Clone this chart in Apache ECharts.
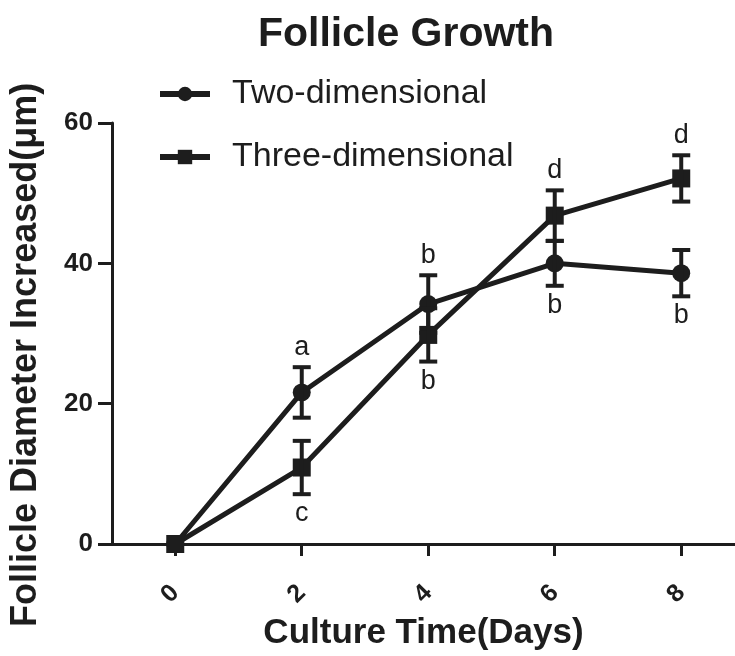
<!DOCTYPE html>
<html>
<head>
<meta charset="utf-8">
<script src="https://cdn.jsdelivr.net/npm/echarts@6/dist/echarts.min.js"></script>
<style>
  html, body { margin: 0; padding: 0; background: #fff; }
  #chart { width: 735px; height: 656px; }
</style>
</head>
<body>
<div id="chart"></div>
<script>
// culture days
var days = [0, 2, 4, 6, 8];

// follicle diameter increase (um), mean and error
var twoDimMean = [0, 21.6, 34.2, 40.0, 38.6];
var twoDimErr = [0, 3.6, 4.1, 3.2, 3.3];
var threeDimMean = [0, 10.9, 29.8, 46.8, 52.1];
var threeDimErr = [0, 3.8, 3.8, 3.6, 3.3];

// significance letters and which side of the bar they go
var twoDimLetters = ['', 'a', 'b', 'b', 'b'];
var twoDimSide = ['', 'up', 'up', 'down', 'down'];
var threeDimLetters = ['', 'c', 'b', 'd', 'd'];
var threeDimSide = ['', 'down', 'down', 'up', 'up'];

var xTicks = [0, 2, 4, 6, 8];

var ink = '#1d1d1d';
var font = 'Liberation Sans';

function pairs(mean) {
  return days.map(function (d, i) { return [d, mean[i]]; });
}

function errData(mean, err, letters, side) {
  return days.map(function (d, i) {
    return [d, mean[i] - err[i], mean[i] + err[i], letters[i], side[i]];
  });
}

function renderErr(params, api) {
  var x = api.value(0);
  var lo = api.coord([x, api.value(1)]);
  var hi = api.coord([x, api.value(2)]);
  var letter = api.value(3);
  var side = api.value(4);
  var cap = 9;
  var style = { stroke: ink, lineWidth: 4 };
  var kids = [];
  if (hi[1] < lo[1] - 1) {
    kids.push(
      { type: 'line', shape: { x1: lo[0], y1: lo[1], x2: hi[0], y2: hi[1] }, style: style },
      { type: 'line', shape: { x1: hi[0] - cap, y1: hi[1], x2: hi[0] + cap, y2: hi[1] }, style: style },
      { type: 'line', shape: { x1: lo[0] - cap, y1: lo[1], x2: lo[0] + cap, y2: lo[1] }, style: style }
    );
  }
  if (letter) {
    var up = side === 'up';
    kids.push({
      type: 'text',
      style: {
        text: letter,
        x: hi[0],
        y: up ? hi[1] - 6 : lo[1] + 6,
        fill: ink,
        font: '27px "' + font + '"',
        align: 'center',
        verticalAlign: up ? 'bottom' : 'top'
      }
    });
  }
  return { type: 'group', children: kids };
}

var chart = echarts.init(document.getElementById('chart'));

var option = {
  animation: false,
  backgroundColor: '#fff',
  title: {
    text: 'Follicle Growth',
    left: 401,
    top: 9,
    textAlign: 'center',
    textStyle: { fontFamily: font, fontSize: 41, fontWeight: 'bold', color: ink }
  },
  legend: {
    orient: 'vertical',
    left: 152,
    top: 72,
    itemWidth: 50,
    itemHeight: 18,
    itemGap: 29,
    lineStyle: { width: 6 },
    textStyle: { fontFamily: font, fontSize: 34, color: ink, padding: [0, 0, 0, 17] },
    data: ['Two-dimensional', 'Three-dimensional']
  },
  grid: { left: 112, right: 0, top: 123, bottom: 111, containLabel: false },
  graphic: [{
    type: 'text',
    x: 8,
    y: 627,
    rotation: Math.PI / 2,
    style: {
      text: 'Follicle Diameter Increased(\u03bcm)',
      fill: ink,
      font: 'bold 36px "' + font + '"'
    }
  }],
  xAxis: {
    type: 'value',
    min: -1,
    max: 8.85,
    interval: 1,
    name: 'Culture Time(Days)',
    nameLocation: 'middle',
    nameGap: 72,
    nameTextStyle: { fontFamily: font, fontSize: 35, fontWeight: 'bold', color: ink },
    splitLine: { show: false },
    axisLine: { onZero: false, lineStyle: { color: ink, width: 3 } },
    axisTick: {
      length: 12,
      lineStyle: { color: ink, width: 3 },
      customValues: xTicks
    },
    axisLabel: {
      rotate: 45,
      margin: 45,
      fontFamily: font,
      fontSize: 25,
      fontWeight: 'bold',
      color: ink,
      customValues: xTicks
    }
  },
  yAxis: {
    type: 'value',
    min: 0,
    max: 60,
    interval: 20,
    splitLine: { show: false },
    axisLine: { show: true, onZero: false, lineStyle: { color: ink, width: 3 } },
    axisTick: { show: true, length: 14, lineStyle: { color: ink, width: 3 } },
    axisLabel: {
      margin: 19,
      fontFamily: font,
      fontSize: 26,
      fontWeight: 'bold',
      color: ink
    }
  },
  series: [
    {
      name: 'Two-dimensional',
      type: 'line',
      data: pairs(twoDimMean),
      symbol: 'circle',
      symbolSize: 18,
      z: 3,
      itemStyle: { color: ink },
      lineStyle: { color: ink, width: 5 }
    },
    {
      name: 'Three-dimensional',
      type: 'line',
      data: pairs(threeDimMean),
      symbol: 'rect',
      symbolSize: 18,
      z: 3,
      itemStyle: { color: ink },
      lineStyle: { color: ink, width: 5 }
    },
    {
      type: 'custom',
      renderItem: renderErr,
      data: errData(twoDimMean, twoDimErr, twoDimLetters, twoDimSide),
      z: 4,
      silent: true
    },
    {
      type: 'custom',
      renderItem: renderErr,
      data: errData(threeDimMean, threeDimErr, threeDimLetters, threeDimSide),
      z: 4,
      silent: true
    }
  ]
};

chart.setOption(option);
</script>
</body>
</html>
